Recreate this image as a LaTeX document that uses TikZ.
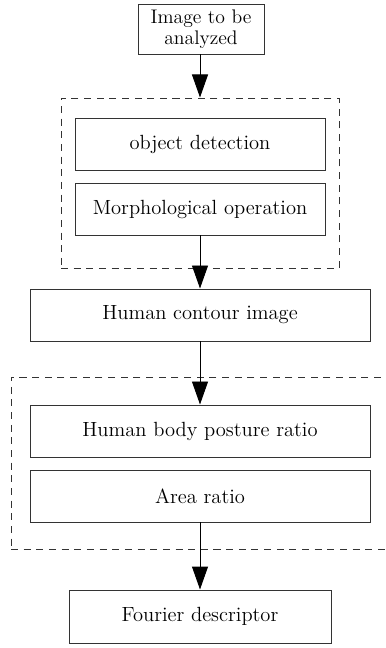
\documentclass[tikz,border=0pt]{standalone}
\usetikzlibrary{arrows.meta}
\def\px{0.025cm}
\tikzset{
  stepbox/.style={draw=black!80, line width=0.7pt, inner sep=0pt,
    minimum height=52*\px, font=\fontsize{14.6}{17}\selectfont},
  groupbox/.style={draw=black!80, line width=0.7pt, dash pattern=on 5pt off 4pt,
    inner sep=0pt},
  flow/.style={draw=black, line width=0.7pt,
    -{Triangle[length=0.575cm, width=0.4cm]}}
}
\begin{document}
\begin{tikzpicture}[x=\px, y=-\px]
  \useasboundingbox (0,0) rectangle (386,648);
  % input
  \node[stepbox, minimum width=126*\px, minimum height=50*\px, align=center,
    font=\fontsize{14}{17}\selectfont]
    (img) at (201,29) {Image to be\\[-2pt]analyzed};
  % preprocessing group
  \node[groupbox, minimum width=278*\px, minimum height=170*\px] (grpA) at (200,183) {};
  \node[stepbox, minimum width=250*\px] (detect) at (200,144) {object detection};
  \node[stepbox, minimum width=250*\px] (morph) at (200,209) {Morphological operation};
  \node[stepbox, minimum width=340*\px] (contour) at (200,315) {Human contour image};
  % feature group
  \node[groupbox, minimum width=409*\px, minimum height=172*\px] (grpB) at (215.5,463) {};
  \node[stepbox, minimum width=340*\px] (posture) at (200,431) {Human body posture ratio};
  \node[stepbox, minimum width=340*\px] (area) at (200,496) {Area ratio};
  \node[stepbox, minimum width=262*\px, minimum height=53*\px] (fourier) at (200,616.5) {Fourier descriptor};
  % arrows
  \draw[flow] (img.south -| 200,0) -- (grpA.north -| 200,0);
  \draw[flow] (morph) -- (contour);
  \draw[flow] (contour) -- (posture);
  \draw[flow] (area) -- (fourier);
\end{tikzpicture}
\end{document}
